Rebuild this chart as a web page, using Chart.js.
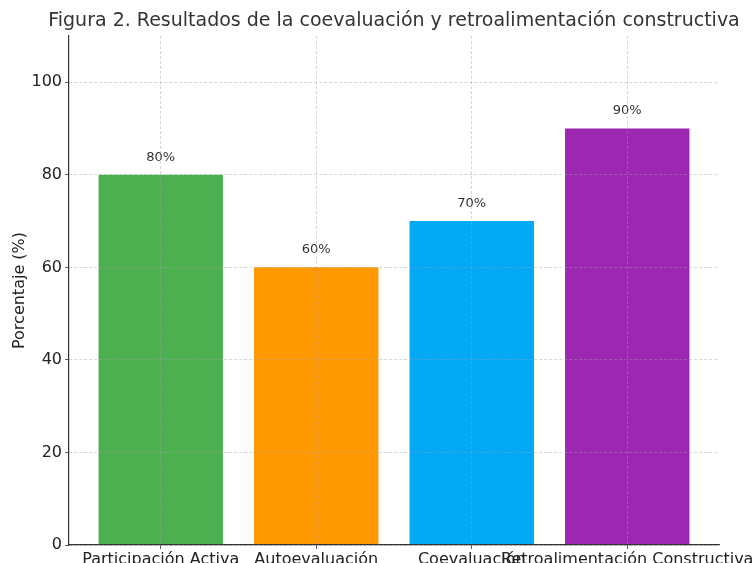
<!DOCTYPE html>
<html>
<head>
<meta charset="utf-8">
<script src="https://cdn.jsdelivr.net/npm/chart.js@4/dist/chart.umd.min.js"></script>
<style>
    html, body { margin: 0; padding: 0; background: #fff; overflow: hidden; }
    #wrap { width: 755px; height: 563px; position: relative; }
</style>
</head>
<body>
<div id="wrap"><canvas id="grafico"></canvas></div>
<script>
const titulo = 'Figura 2. Resultados de la coevaluación y retroalimentación constructiva';
const categorias = ['Participación Activa', 'Autoevaluación', 'Coevaluación', 'Retroalimentación Constructiva'];
const porcentajes = [80, 60, 70, 90];
const colores = ['#4caf50', '#ff9800', '#03a9f4', '#9c27b0'];
const ticksY = [0, 20, 40, 60, 80, 100];

const FUENTE = 'DejaVu Sans';

// etiquetas encima de cada barra
const etiquetasBarras = {
    id: 'etiquetasBarras',
    afterDatasetsDraw(chart) {
        const ctx = chart.ctx;
        const meta = chart.getDatasetMeta(0);
        ctx.save();
        ctx.font = '13px "' + FUENTE + '"';
        ctx.fillStyle = '#333';
        ctx.textAlign = 'center';
        ctx.textBaseline = 'bottom';
        meta.data.forEach((bar, i) => {
            ctx.fillText(porcentajes[i] + '%', bar.x, bar.y - 11);
        });
        ctx.restore();
    }
};

// título centrado sobre el área del gráfico (puede salirse de ella)
const tituloCentrado = {
    id: 'tituloCentrado',
    afterDraw(chart) {
        const ctx = chart.ctx;
        const area = chart.chartArea;
        ctx.save();
        ctx.font = '19px "' + FUENTE + '"';
        ctx.fillStyle = '#333';
        ctx.textAlign = 'center';
        ctx.textBaseline = 'middle';
        ctx.fillText(titulo, (area.left + area.right) / 2, 21);
        ctx.restore();
    }
};

// la rejilla va encima de las barras, semitransparente
const rejilla = {
    z: 1,
    color: 'rgba(160, 160, 160, 0.55)',
    lineWidth: 0.8,
    tickLength: 4,
    tickColor: '#333',
    tickBorderDash: []
};

new Chart(document.getElementById('grafico'), {
    type: 'bar',
    data: {
        datasets: [{
            data: porcentajes.map((v, i) => ({ x: i, y: v })),
            backgroundColor: colores,
            borderWidth: 0,
            barPercentage: 0.8,
            categoryPercentage: 1
        }]
    },
    options: {
        responsive: true,
        maintainAspectRatio: false,
        animation: false,
        layout: { padding: { left: 0, right: 36, top: 36, bottom: 0 } },
        plugins: {
            legend: { display: false },
            tooltip: { enabled: false },
            title: { display: false }
        },
        scales: {
            x: {
                type: 'linear',
                offset: false,
                min: -0.59,
                max: 3.59,
                afterBuildTicks: s => { s.ticks = categorias.map((c, i) => ({ value: i })); },
                afterFit: s => { s.height = 18; s.paddingLeft = 0; s.paddingRight = 0; },
                ticks: {
                    autoSkip: false,
                    maxRotation: 0,
                    minRotation: 0,
                    padding: 1,
                    color: '#222',
                    font: { family: FUENTE, size: 16 },
                    callback: v => categorias[v] ?? ''
                },
                grid: Object.assign({ offset: false }, rejilla),
                border: { display: true, color: '#333', width: 1.2, dash: [3, 2], z: 2 }
            },
            y: {
                min: 0,
                max: 110,
                afterBuildTicks: s => { s.ticks = ticksY.map(v => ({ value: v })); },
                afterFit: s => { s.width = 69; s.paddingTop = 0; s.paddingBottom = 0; },
                ticks: {
                    padding: 3,
                    color: '#222',
                    font: { family: FUENTE, size: 16 }
                },
                grid: rejilla,
                border: { display: true, color: '#333', width: 1.2, dash: [3, 2], z: 2 },
                title: {
                    display: true,
                    text: 'Porcentaje (%)',
                    color: '#222',
                    font: { family: FUENTE, size: 16 },
                    padding: { top: 10, bottom: 4 }
                }
            }
        }
    },
    plugins: [etiquetasBarras, tituloCentrado]
});
</script>
</body>
</html>
